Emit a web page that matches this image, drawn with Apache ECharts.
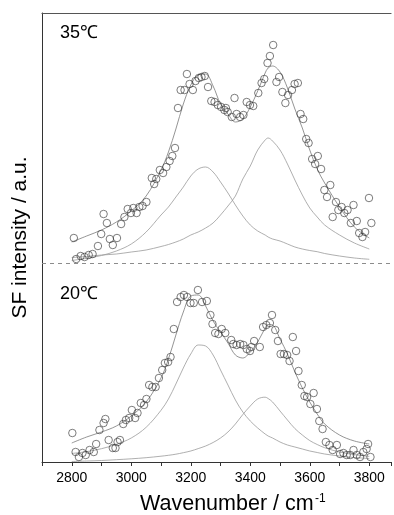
<!DOCTYPE html>
<html><head><meta charset="utf-8">
<script src="https://cdn.jsdelivr.net/npm/echarts@6/dist/echarts.min.js"></script>
<style>html,body{margin:0;padding:0;background:#fff}#c{width:394px;height:515px}</style>
</head><body><div id="c"></div>
<script>
// ---- data (wavenumber in cm^-1, SF intensity in a.u.) ----
const fitWn = [2800,2850,2900,2950,3000,3050,3100,3125,3150,3175,3200,3225,3250,3275,3300,3325,3350,3375,3400,3425,3450,3460,3475,3500,3525,3550,3575,3600,3625,3650,3700,3750,3800];

// 35 °C
const fit35   = [20,26,32,40,51,66,92,110,133,158,177,187,188,176,158,148,140,143,155,171,189,194,196,190,174,153,134,112,93,79,55,35,24];
const peakA35 = [1.5,3.7,6.5,11,18,30,47,55,65,75,86,93,95,90,80,69,57,46,37,31,27,25,23,21,18,15,13,11.5,10.3,8.5,6,4,2.7];
const peakB35 = [4.5,5.5,7,8,10,12,15.5,17.5,20,23,27,30,34,39,47,56,66,83,96,112,122,124,121,112,98,82,67,54,45,37,27,19,13];
const obsWn35 = [2807,2815,2830,2843,2857,2870,2888,2899,2907,2918,2928,2938,2952,2966,2977,2988,2999,3007,3018,3027,3038,3051,3069,3077,3084,3096,3107,3118,3129,3138,3147,3157,3166,3179,3187,3196,3207,3216,3227,3236,3247,3258,3269,3280,3291,3302,3313,3318,3324,3338,3347,3354,3366,3377,3388,3399,3410,3427,3438,3447,3458,3466,3477,3488,3497,3508,3518,3527,3540,3549,3560,3569,3578,3588,3596,3608,3618,3627,3638,3649,3658,3669,3677,3688,3696,3707,3716,3727,3738,3747,3758,3766,3777,3786,3799,3807];
const obs35   = [24,3,6,5,7,8,16,28,48,39,23,17,24,38,45,53,49,54,49,55,56,60,84,78,83,92,89,95,101,106,114,154,172,172,188,178,172,181,184,185,186,175,161,160,157,155,152,154,150,145,164,148,145,147,160,157,156,169,179,183,199,206,217,180,185,170,159,167,172,178,179,148,143,123,119,103,98,106,93,72,65,77,45,60,52,55,49,52,39,57,41,29,25,30,64,39];

// 20 °C
const fit20   = [19,25,30,36,46,60,84,103,127,150,166,167,156,141,130,119,107,104,110,120,134,137.5,137,123,108,90,74,60,48,38,27,21,18];
const peakA20 = [8.5,10.4,13.3,17.7,24,34.7,51.7,63,78,94,108,117,116,107,92,77,62,50,41,34,28,26,24,20,17,15,13,11,9.5,8,6,4.5,3.5];
const peakB20 = [0.5,1,1.5,2.3,3.2,4.3,5.8,6.7,7.8,9.3,11,13.4,16,19.5,24,30,38,47.5,56,63,64.8,63.5,60,51,42,33.4,27,21.4,17.5,14.3,10,7.4,5.6];
const obsWn20 = [2802,2813,2824,2836,2847,2860,2874,2882,2893,2907,2913,2924,2938,2947,2954,2962,2973,2982,2993,3002,3013,3021,3032,3043,3051,3060,3071,3082,3093,3104,3113,3124,3132,3143,3154,3166,3177,3188,3199,3210,3224,3238,3254,3266,3273,3282,3293,3304,3316,3336,3343,3354,3366,3377,3388,3399,3404,3413,3432,3443,3454,3466,3473,3484,3493,3502,3513,3524,3532,3543,3554,3562,3573,3582,3591,3602,3613,3624,3632,3643,3654,3666,3677,3691,3702,3713,3724,3736,3747,3758,3769,3780,3791,3796,3804];
const obs20   = [29,10,5,9,7,12,10,18,32,39,43,22,14,14,20,22,38,42,44,52,44,49,59,57,63,77,75,75,84,92,99,100,105,133,160,165,167,165,159,159,172,160,161,147,138,129,128,133,129,122,118,117,118,117,113,111,115,121,115,135,137,139,147,132,121,108,108,107,101,125,111,91,77,66,65,58,69,53,41,33,20,17,12,17,8,9,7,7,12,7,5,10,13,18,5];

const panelLabels = ['35℃', '20℃'];
const xTickStep = 100, xLabelStep = 200;

// ---- layout ----
const STACK_OFFSET = 200;   // vertical offset of the upper (35 °C) trace
const SEP_LEVEL = 199;      // dashed separator
const FONT = '"Liberation Sans", Arial, sans-serif';

function pairs(xs, ys, off) { return xs.map((x, i) => [x, ys[i] + off]); }

const lineBase = (data, color) => ({
  type: 'line', data, showSymbol: false, smooth: 0.35, silent: true,
  lineStyle: { color, width: 0.8 }, z: 2
});
const scat = (data) => ({
  type: 'scatter', data, symbol: 'circle', symbolSize: 7.5, silent: true,
  itemStyle: { color: 'rgba(255,255,255,0)', borderColor: '#333', borderWidth: 0.8 }, z: 3
});

const chart = echarts.init(document.getElementById('c'), null, { renderer: 'canvas' });
const s1 = lineBase(pairs(fitWn, fit35, STACK_OFFSET), '#7a7a7a');
s1.markLine = {
  silent: true, symbol: ['none', 'none'], label: { show: false },
  lineStyle: { type: [4, 4], color: '#8c8c8c', width: 1 },
  data: [{ yAxis: SEP_LEVEL }]
};
chart.setOption({
  animation: false,
  backgroundColor: '#fff',
  grid: { left: 42, right: 0, top: 13, bottom: 53 },
  xAxis: [{
    type: 'value', min: 2700, max: 3873, interval: xTickStep,
    axisLine: { show: true, lineStyle: { color: '#333', width: 1 } },
    axisTick: { show: true, length: 4, inside: false, lineStyle: { color: '#333' } },
    axisLabel: { margin: 9, color: '#000', fontSize: 14, fontFamily: FONT,
      formatter: v => (v % xLabelStep === 0 ? String(v) : '') },
    splitLine: { show: false }
  }, {
    type: 'value', position: 'top', min: 2700, max: 3873, interval: xTickStep,
    axisLine: { show: true, lineStyle: { color: '#555', width: 1.2 } },
    axisTick: { show: false }, axisLabel: { show: false }, splitLine: { show: false }
  }],
  yAxis: {
    type: 'value', min: 0, max: 449,
    axisLine: { show: true, lineStyle: { color: '#333', width: 1 } },
    axisTick: { show: false }, axisLabel: { show: false }, splitLine: { show: false }
  },
  series: [
    s1,
    lineBase(pairs(fitWn, peakA35, STACK_OFFSET), '#9a9a9a'),
    lineBase(pairs(fitWn, peakB35, STACK_OFFSET), '#9a9a9a'),
    scat(pairs(obsWn35, obs35, STACK_OFFSET)),
    lineBase(pairs(fitWn, fit20, 0), '#7a7a7a'),
    lineBase(pairs(fitWn, peakA20, 0), '#9a9a9a'),
    lineBase(pairs(fitWn, peakB20, 0), '#9a9a9a'),
    scat(pairs(obsWn20, obs20, 0))
  ],
  graphic: [
    { type: 'text', x: 60, y: 33.5, style: { text: panelLabels[0], fill: '#000', font: '18px ' + FONT, verticalAlign: 'middle' } },
    { type: 'text', x: 60, y: 294, style: { text: panelLabels[1], fill: '#000', font: '18px ' + FONT, verticalAlign: 'middle' } },
    { type: 'text', x: 20.5, y: 237.5, rotation: Math.PI / 2,
      style: { text: 'SF intensity / a.u.', fill: '#000', font: '21px ' + FONT, align: 'center', verticalAlign: 'middle' } },
    { type: 'text', x: 140, y: 504.5, style: { text: 'Wavenumber / cm', fill: '#000', font: '21.5px ' + FONT, verticalAlign: 'middle' } },
    { type: 'text', x: 315, y: 499, style: { text: '-1', fill: '#000', font: '12px ' + FONT, verticalAlign: 'middle' } }
  ]
});
</script>
</body></html>
